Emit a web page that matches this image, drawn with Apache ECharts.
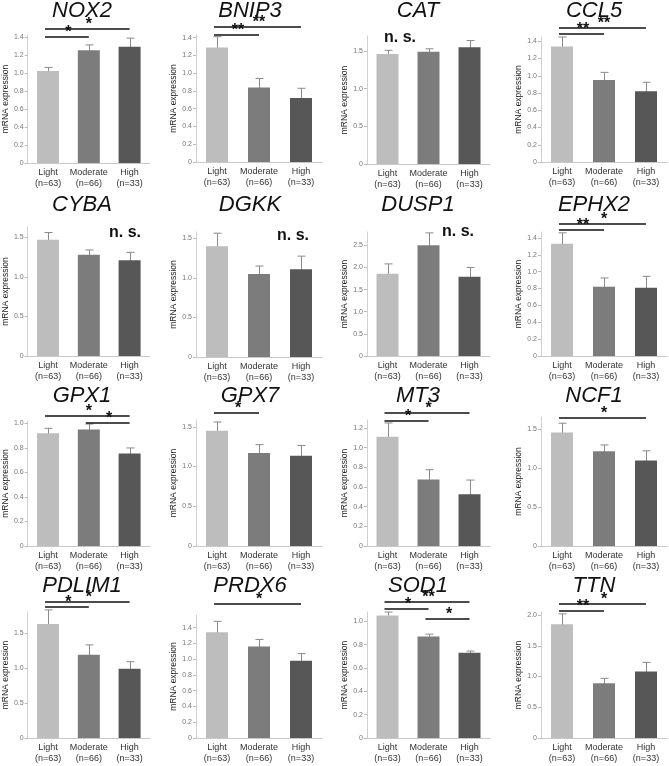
<!DOCTYPE html>
<html><head><meta charset="utf-8">
<script src="https://cdn.jsdelivr.net/npm/echarts@6/dist/echarts.min.js"></script>
<style>html,body{margin:0;padding:0;background:#fff}#c{width:669px;height:766px}</style>
</head><body><div id="c"></div>
<script>
// ---------- data ----------
const genes = ['NOX2','BNIP3','CAT','CCL5','CYBA','DGKK','DUSP1','EPHX2','GPX1','GPX7','MT3','NCF1','PDLIM1','PRDX6','SOD1','TTN'];
const groups = ['Light','Moderate','High'];
const groupN = ['(n=63)','(n=66)','(n=33)'];
const lightMean    = [1.02,1.29,1.46,1.34,1.47,1.40,1.86,1.33,0.92,1.45,1.11,1.46,1.63,1.34,1.05,1.85];
const lightErr     = [0.04,0.12,0.05,0.11,0.09,0.165,0.22,0.13,0.04,0.11,0.14,0.12,0.20,0.14,0.03,0.17];
const moderateMean = [1.25,0.84,1.49,0.95,1.28,1.05,2.50,0.82,0.95,1.17,0.675,1.22,1.19,1.16,0.87,0.89];
const moderateErr  = [0.06,0.10,0.04,0.09,0.06,0.10,0.28,0.105,0.045,0.105,0.10,0.08,0.14,0.09,0.02,0.08];
const highMean     = [1.29,0.72,1.55,0.82,1.21,1.11,1.79,0.81,0.755,1.135,0.525,1.10,0.99,0.98,0.73,1.08];
const highErr      = [0.095,0.11,0.09,0.105,0.10,0.165,0.21,0.135,0.045,0.13,0.145,0.125,0.10,0.09,0.015,0.15];
const yMax     = [1.42,1.43,1.7,1.45,1.63,1.58,2.8,1.47,1.02,1.585,1.28,1.66,1.8,1.56,1.08,2.05];
const tickStep = [0.2,0.2,0.5,0.2,0.5,0.5,0.5,0.2,0.2,0.5,0.2,0.5,0.5,0.2,0.2,0.5];
// significance brackets
const sigGene = ['NOX2','NOX2','BNIP3','BNIP3','CCL5','CCL5','EPHX2','EPHX2','GPX1','GPX1','GPX7','MT3','MT3','NCF1','PDLIM1','PDLIM1','PRDX6','SOD1','SOD1','SOD1','TTN','TTN'];
const sigFrom = [0,0,0,0,0,0,0,0,0,1,0,0,0,0,0,0,0,0,0,1,0,0];
const sigTo   = [1,2,1,2,1,2,1,2,2,2,1,1,2,2,1,2,2,1,2,2,1,2];
const sigY    = [1.40,1.49,1.43,1.52,1.48,1.555,1.49,1.57,1.06,1.006,1.67,1.27,1.347,1.645,1.87,1.94,1.70,1.11,1.17,1.02,2.06,2.18];
const sigText = ['*','*','**','**','**','**','**','*','*','*','*','*','*','*','*','*','*','*','**','*','**','*'];
const nsGene = ['CAT','CYBA','DGKK','DUSP1'];
const nsText = 'n. s.';

// ---------- layout ----------
const colLeft  = [25,196,367,541];
const colWidth = [125,126,123,126];
const colTitleX = [82,250,418,594];
const rowTitleY = [11,205,396,586];
const zeroY   = [163,162,164,162, 356,357,356,356, 546,546,546,546, 738,738,738,738];
const gridTop = [35,35,36,37, 227,232,232,232, 421,420,420,417, 612,615,612,612];
const nsPos   = [[400,38],[125,233],[293,236],[458,232]];
const barColors = ['#bdbdbd','#7c7c7c','#575757'];
const FONT = '"Liberation Sans", Arial, sans-serif';

const chart = echarts.init(document.getElementById('c'), null, {renderer:'canvas'});
const grids=[], xAxes=[], yAxes=[], series=[], graphics=[];
genes.forEach((g,i)=>{
  const c = i%4, r = Math.floor(i/4);
  grids.push({left:colLeft[c], width:colWidth[c], top:gridTop[i], height:zeroY[i]-gridTop[i]});
  xAxes.push({type:'category', gridIndex:i, data:groups.map((t,k)=>t+'\n'+groupN[k]),
    axisTick:{show:false}, axisLine:{lineStyle:{color:'#c8c8c8',width:1}},
    axisLabel:{interval:0, fontSize:9, color:'#333', lineHeight:11, margin:4, fontFamily:FONT}});
  const ticks=[]; for(let v=0; v<=yMax[i]+1e-9; v+=tickStep[i]) ticks.push(Math.round(v*10)/10);
  yAxes.push({type:'value', gridIndex:i, min:0, max:yMax[i],
    axisLine:{show:true, lineStyle:{color:'#d0d0d0',width:1}},
    axisTick:{show:true, length:3, customValues:ticks, lineStyle:{color:'#bbb'}},
    axisLabel:{customValues:ticks, fontSize:7, color:'#777', margin:4, fontFamily:FONT,
      formatter:v=> v===0?'0':v.toFixed(1)},
    splitLine:{show:false},
    name:'mRNA expression', nameLocation:'middle', nameGap:14,
    nameTextStyle:{fontSize:8.5, color:'#222', fontFamily:FONT}});
  const means=[lightMean[i],moderateMean[i],highMean[i]];
  const errs=[lightErr[i],moderateErr[i],highErr[i]];
  series.push({type:'bar', xAxisIndex:i, yAxisIndex:i, barWidth:22, silent:true,
    data:means.map((m,k)=>({value:m, itemStyle:{color:barColors[k]}}))});
  series.push({type:'custom', xAxisIndex:i, yAxisIndex:i, silent:true, clip:false,
    data:means.map((m,k)=>[k,m,errs[k]]), encode:{x:0,y:1},
    renderItem:(p,api)=>{
      const x=api.value(0), m=api.value(1), e=api.value(2);
      const hi=api.coord([x,m+e]), lo=api.coord([x,m-e]);
      const cx=Math.round(hi[0])+0.5, h=4;
      const st={stroke:'#8a8a8a', lineWidth:1};
      return {type:'group', children:[
        {type:'line', shape:{x1:cx,y1:hi[1],x2:cx,y2:lo[1]}, style:st},
        {type:'line', shape:{x1:cx-h,y1:hi[1],x2:cx+h,y2:hi[1]}, style:st},
        {type:'line', shape:{x1:cx-h,y1:lo[1],x2:cx+h,y2:lo[1]}, style:st}]};
    }});
  const sIdx=[]; sigGene.forEach((s,j)=>{ if(s===g) sIdx.push(j); });
  if(sIdx.length){
    series.push({type:'custom', xAxisIndex:i, yAxisIndex:i, silent:true, clip:false,
      data:sIdx.map(j=>[sigFrom[j],sigTo[j],sigY[j]]), encode:{x:[0,1],y:2},
      renderItem:(p,api)=>{
        const a=api.coord([api.value(0),api.value(2)]), b=api.coord([api.value(1),api.value(2)]);
        const y=Math.round(a[1]);
        return {type:'group', children:[
          {type:'line', shape:{x1:a[0]-3,y1:y,x2:b[0],y2:y}, style:{stroke:'#111',lineWidth:1.6}},
          {type:'text', x:(a[0]+b[0])/2, y:y-4, style:{text:sigText[sIdx[p.dataIndex]], align:'center', verticalAlign:'middle', font:'bold 16px '+FONT, fill:'#111'}}]};
      }});
  }
  graphics.push({type:'text', x:colTitleX[c], y:rowTitleY[r], silent:true,
    style:{text:g, align:'center', verticalAlign:'middle', font:'italic 22px '+FONT, fill:'#111'}});
  const ni=nsGene.indexOf(g);
  if(ni>=0) graphics.push({type:'text', x:nsPos[ni][0], y:nsPos[ni][1], silent:true,
    style:{text:nsText, align:'center', verticalAlign:'middle', font:'bold 16px '+FONT, fill:'#111'}});
});
chart.setOption({animation:false, backgroundColor:'#fff', grid:grids, xAxis:xAxes, yAxis:yAxes, series:series, graphic:graphics});
</script></body></html>
